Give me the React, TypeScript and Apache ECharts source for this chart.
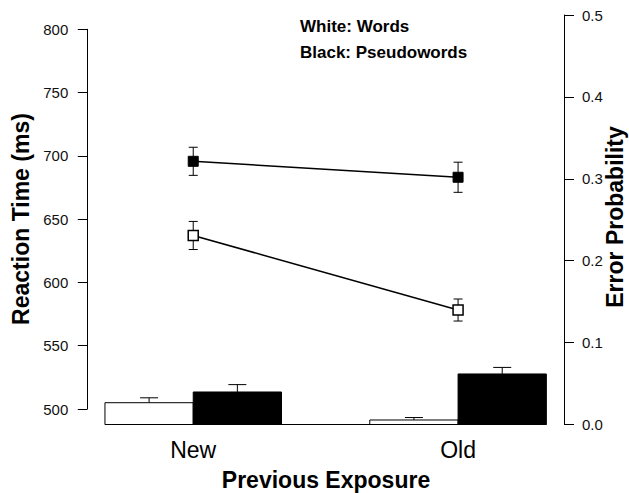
import React, { useEffect, useRef } from "react";
import * as echarts from "echarts";

// ---- data ----
const categories = ["New", "Old"];
// error probabilities (bars, right axis)
const wordsError = [0.0266, 0.0055];
const wordsErrorSE = [0.006, 0.003];
const pseudoError = [0.0397, 0.0617];
const pseudoErrorSE = [0.009, 0.008];
// reaction times (lines, left axis)
const wordsRT = [637.1, 578.2];
const wordsRTSE = [11.1, 8.7];
const pseudoRT = [695.7, 683.1];
const pseudoRTSE = [11.1, 11.9];
// axis ranges
const rtRange = [500, 800, 50];
const errRange = [0, 0.5, 0.1];
const legendTexts = ["White: Words", "Black: Pseudowords"];

const FONT = "'Liberation Sans', Arial, Helvetica, sans-serif";

export default function App() {
  const ref = useRef<HTMLDivElement>(null);

  useEffect(() => {
    if (!ref.current) return;
    const chart = echarts.init(ref.current, undefined, { renderer: "svg" });

    // R barplot style layout: bars have width 1, groups separated by 1
    const center = (i: number) => 2 + 3 * i;
    const barData: number[][] = [];
    categories.forEach((_, i) => {
      const c = center(i);
      barData.push([c - 1, c, wordsError[i], wordsErrorSE[i], 0]);
      barData.push([c, c + 1, pseudoError[i], pseudoErrorSE[i], 1]);
    });
    const baseData = [[center(0) - 1, center(categories.length - 1) + 1]];
    const wordsLine = categories.map((_, i) => [center(i), wordsRT[i]]);
    const pseudoLine = categories.map((_, i) => [center(i), pseudoRT[i]]);
    const rtErr = [
      ...categories.map((_, i) => [center(i), wordsRT[i], wordsRTSE[i]]),
      ...categories.map((_, i) => [center(i), pseudoRT[i], pseudoRTSE[i]]),
    ];

    const xMin = 0.8;
    const xMax = 6.2;

    const option: any = {
      animation: false,
      textStyle: { fontFamily: FONT },
      grid: [
        { left: 87.3, right: 65, top: 15, bottom: 68.5 },
        { left: 87.3, right: 65, top: 29.3, bottom: 84 },
        { left: 60.75, right: 38.45, top: 15, bottom: 68.5 },
      ],
      xAxis: [
        { type: "value", gridIndex: 0, min: xMin, max: xMax, show: false },
        { type: "value", gridIndex: 1, min: xMin, max: xMax, show: false },
        {
          type: "category",
          gridIndex: 2,
          data: categories,
          axisLine: { show: false },
          axisTick: { show: false },
          axisLabel: { fontSize: 23, color: "#000", margin: 14, fontFamily: FONT },
          splitLine: { show: false },
        },
      ],
      yAxis: [
        {
          type: "value",
          gridIndex: 0,
          position: "right",
          min: errRange[0],
          max: errRange[1],
          interval: errRange[2],
          axisLine: { show: true, lineStyle: { color: "#000", width: 1 } },
          axisTick: { show: true, length: 10, lineStyle: { color: "#000", width: 1 } },
          axisLabel: {
            fontSize: 15,
            color: "#111",
            margin: 18,
            fontFamily: FONT,
            formatter: (v: number) => v.toFixed(1),
          },
          splitLine: { show: false },
        },
        {
          type: "value",
          gridIndex: 1,
          position: "left",
          min: rtRange[0],
          max: rtRange[1],
          interval: rtRange[2],
          axisLine: { show: true, lineStyle: { color: "#000", width: 1 } },
          axisTick: { show: true, length: 9.5, lineStyle: { color: "#000", width: 1 } },
          axisLabel: { fontSize: 15, color: "#111", margin: 19, fontFamily: FONT },
          splitLine: { show: false },
        },
        { type: "value", gridIndex: 2, show: false },
      ],
      series: [
        {
          type: "custom",
          name: "Error bars",
          xAxisIndex: 0,
          yAxisIndex: 0,
          data: barData,
          z: 2,
          renderItem: (params: any, api: any) => {
            const x0 = api.value(0);
            const x1 = api.value(1);
            const v = api.value(2);
            const se = api.value(3);
            const k = api.value(4);
            const pTop = api.coord([x0, v]);
            const pBot = api.coord([x1, 0]);
            const e = api.coord([(x0 + x1) / 2, v + se]);
            const cap = 9;
            return {
              type: "group",
              children: [
                {
                  type: "rect",
                  shape: { x: pTop[0], y: pTop[1], width: pBot[0] - pTop[0], height: pBot[1] - pTop[1] },
                  style: { fill: k ? "#000" : "#fff", stroke: "#000", lineWidth: 1 },
                },
                {
                  type: "line",
                  shape: { x1: e[0], y1: pTop[1], x2: e[0], y2: e[1] },
                  style: { stroke: "#000", lineWidth: 1 },
                },
                {
                  type: "line",
                  shape: { x1: e[0] - cap, y1: e[1], x2: e[0] + cap, y2: e[1] },
                  style: { stroke: "#000", lineWidth: 1 },
                },
              ],
            };
          },
        },
        {
          type: "custom",
          name: "baseline",
          xAxisIndex: 0,
          yAxisIndex: 0,
          data: baseData,
          z: 3,
          renderItem: (params: any, api: any) => {
            const a = api.coord([api.value(0), 0]);
            const b = api.coord([api.value(1), 0]);
            return {
              type: "line",
              shape: { x1: a[0], y1: a[1], x2: b[0], y2: b[1] },
              style: { stroke: "#000", lineWidth: 1.2 },
            };
          },
        },
        {
          type: "custom",
          name: "RT error",
          xAxisIndex: 1,
          yAxisIndex: 1,
          data: rtErr,
          z: 3,
          renderItem: (params: any, api: any) => {
            const x = api.value(0);
            const v = api.value(1);
            const se = api.value(2);
            const hi = api.coord([x, v + se]);
            const lo = api.coord([x, v - se]);
            const cap = 4.5;
            return {
              type: "group",
              children: [
                { type: "line", shape: { x1: hi[0], y1: hi[1], x2: lo[0], y2: lo[1] }, style: { stroke: "#000", lineWidth: 1 } },
                { type: "line", shape: { x1: hi[0] - cap, y1: hi[1], x2: hi[0] + cap, y2: hi[1] }, style: { stroke: "#000", lineWidth: 1 } },
                { type: "line", shape: { x1: lo[0] - cap, y1: lo[1], x2: lo[0] + cap, y2: lo[1] }, style: { stroke: "#000", lineWidth: 1 } },
              ],
            };
          },
        },
        {
          type: "line",
          name: "Words RT",
          xAxisIndex: 1,
          yAxisIndex: 1,
          data: wordsLine,
          z: 5,
          symbol: "rect",
          symbolSize: 10,
          lineStyle: { color: "#000", width: 1.5 },
          itemStyle: { color: "#fff", borderColor: "#000", borderWidth: 1.5 },
        },
        {
          type: "line",
          name: "Pseudowords RT",
          xAxisIndex: 1,
          yAxisIndex: 1,
          data: pseudoLine,
          z: 5,
          symbol: "rect",
          symbolSize: 10,
          lineStyle: { color: "#000", width: 1.5 },
          itemStyle: { color: "#000", borderColor: "#000", borderWidth: 1 },
        },
      ],
      graphic: [
        {
          type: "text",
          x: 21,
          y: 219,
          rotation: Math.PI / 2,
          style: {
            text: "Reaction Time (ms)",
            fontSize: 23,
            fontWeight: "bold",
            fontFamily: FONT,
            fill: "#000",
            align: "center",
            verticalAlign: "middle",
            textAlign: "center",
            textVerticalAlign: "middle",
          },
        },
        {
          type: "text",
          x: 615,
          y: 217,
          rotation: Math.PI / 2,
          style: {
            text: "Error Probability",
            fontSize: 23,
            fontWeight: "bold",
            fontFamily: FONT,
            fill: "#000",
            align: "center",
            verticalAlign: "middle",
            textAlign: "center",
            textVerticalAlign: "middle",
          },
        },
        {
          type: "text",
          x: 326,
          y: 480,
          style: {
            text: "Previous Exposure",
            fontSize: 23,
            fontWeight: "bold",
            fontFamily: FONT,
            fill: "#000",
            align: "center",
            verticalAlign: "middle",
            textAlign: "center",
            textVerticalAlign: "middle",
          },
        },
        ...legendTexts.map((t, i) => ({
          type: "text",
          x: 300,
          y: 26 + i * 26,
          style: {
            text: t,
            fontSize: 17,
            fontWeight: "bold",
            fontFamily: FONT,
            fill: "#000",
            align: "left",
            verticalAlign: "middle",
            textAlign: "left",
            textVerticalAlign: "middle",
          },
        })),
      ],
    };

    chart.setOption(option);
    return () => chart.dispose();
  }, []);

  return (
    <div
      ref={ref}
      style={{ position: "absolute", left: 0, top: 0, width: 629, height: 493, background: "#fff" }}
    />
  );
}
